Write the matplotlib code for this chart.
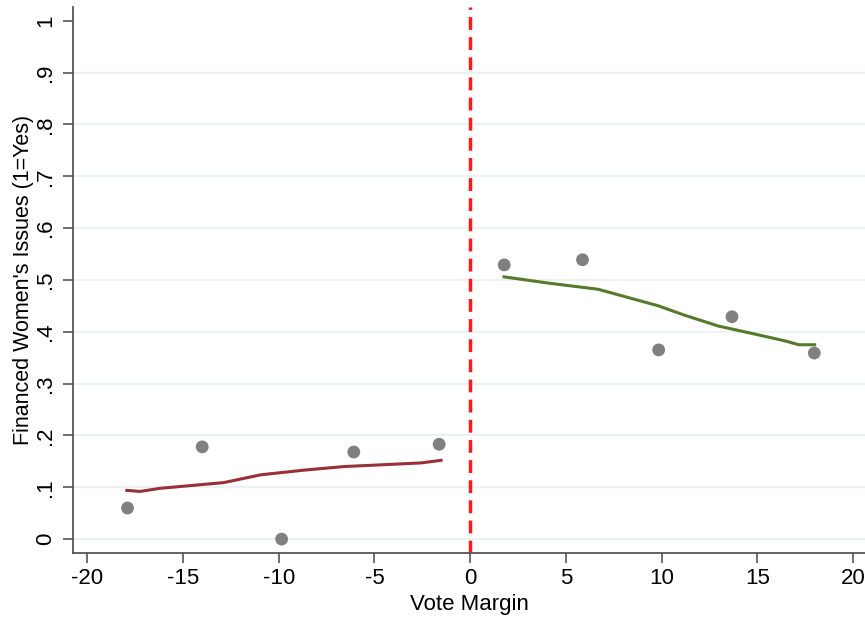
import matplotlib
matplotlib.use("Agg")
import matplotlib.pyplot as plt

plt.rcParams['font.family'] = ['Liberation Sans', 'DejaVu Sans']

# binned means
left_x = [-17.9, -14.0, -9.85, -6.08, -1.62]
left_y = [0.060, 0.178, 0.000, 0.168, 0.183]
right_x = [1.78, 5.87, 9.85, 13.68, 17.98]
right_y = [0.529, 0.539, 0.365, 0.429, 0.359]

# smoothed fits
fit_left_x = [-17.94, -17.24, -16.2, -12.88, -10.95, -8.7, -6.59, -4.84, -2.57, -1.52]
fit_left_y = [0.094, 0.092, 0.098, 0.109, 0.124, 0.133, 0.140, 0.143, 0.147, 0.152]
fit_right_x = [1.77, 4.07, 6.69, 9.84, 11.2, 12.98, 14.7, 16.5, 17.17, 18.0]
fit_right_y = [0.506, 0.494, 0.482, 0.450, 0.432, 0.411, 0.397, 0.382, 0.375, 0.375]

y_ticks = [0, 0.1, 0.2, 0.3, 0.4, 0.5, 0.6, 0.7, 0.8, 0.9, 1.0]
y_labels = ["0", ".1", ".2", ".3", ".4", ".5", ".6", ".7", ".8", ".9", "1"]
x_ticks = [-20, -15, -10, -5, 0, 5, 10, 15, 20]

fig = plt.figure(figsize=(8.65, 6.18), dpi=100)
ax = fig.add_axes([0.0844, 0.105, 0.9156, 0.884])

ax.set_xlim(-20.75, 20.63)
ax.set_ylim(-0.027, 1.027)

ax.set_yticks(y_ticks)
ax.set_yticklabels(y_labels, rotation=90, va="center")
ax.set_xticks(x_ticks)
ax.set_xticklabels([str(t) for t in x_ticks])
ax.tick_params(axis="both", labelsize=16, length=7, width=1.2, color="#555555", direction="out")
ax.tick_params(axis="y", pad=5)
ax.tick_params(axis="x", pad=4)

ax.grid(axis="y", color="#eaf2f3", linewidth=1.6)
ax.get_ygridlines()[-1].set_visible(False)
ax.set_axisbelow(True)

for s in ["top", "right"]:
    ax.spines[s].set_visible(False)
for s in ["left", "bottom"]:
    ax.spines[s].set_color("#555555")
    ax.spines[s].set_linewidth(1.3)

ax.axvline(0, color="#ff1a1a", linewidth=2.5, linestyle=(0, (3.7, 2.1)))

ax.scatter(left_x, left_y, s=85, color="#808080", zorder=3, edgecolors="none")
ax.scatter(right_x, right_y, s=85, color="#808080", zorder=3, edgecolors="none")
ax.plot(fit_left_x, fit_left_y, color="#973038", linewidth=2.2, zorder=2)
ax.plot(fit_right_x, fit_right_y, color="#557a2c", linewidth=2.2, zorder=2)

ax.set_xlabel("Vote Margin", fontsize=16, labelpad=3)
ax.set_ylabel("Financed Women's Issues (1=Yes)", fontsize=15.5, labelpad=1)

fig.savefig("out.png", dpi=100)
